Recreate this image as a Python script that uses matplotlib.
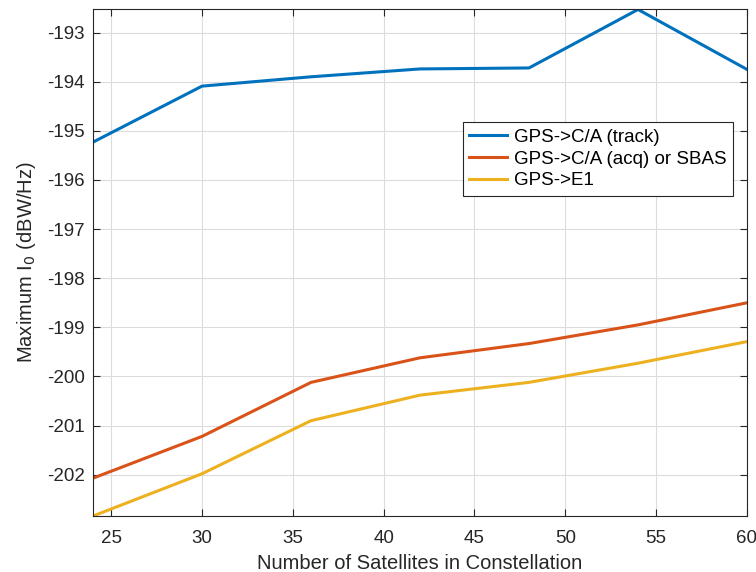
import numpy as np
import matplotlib
matplotlib.use("Agg")
import matplotlib.pyplot as plt

plt.rcParams['font.family'] = ['Liberation Sans', 'DejaVu Sans']
plt.rcParams['axes.unicode_minus'] = False

sats = np.array([24, 30, 36, 42, 48, 54, 60])
ca_track = np.array([-195.23, -194.09, -193.90, -193.74, -193.72, -192.53, -193.75])
ca_acq = np.array([-202.07, -201.22, -200.12, -199.62, -199.33, -198.95, -198.50])
e1 = np.array([-202.84, -201.98, -200.90, -200.38, -200.12, -199.73, -199.29])

labels = ['GPS->C/A (track)', 'GPS->C/A (acq) or SBAS', 'GPS->E1']
colors = ['#0072BD', '#D95319', '#EDB120']

fig = plt.figure(figsize=(7.56, 5.72), dpi=100)
ax = fig.add_axes([93/756, 1 - 516/572, (747 - 93)/756, (516 - 9)/572])

for y, lab, c in zip([ca_track, ca_acq, e1], labels, colors):
    ax.plot(sats, y, color=c, lw=2.2, label=lab)

ax.set_xlim(24, 60)
ax.set_ylim(-202.84, -192.52)
ax.set_xticks(np.arange(25, 61, 5))
ax.set_yticks(np.arange(-202, -192, 1))
ax.grid(True, color='#dcdcdc', lw=0.8)
ax.set_axisbelow(True)
ax.tick_params(direction='in', top=True, right=True, labelsize=13.5,
               colors='#262626', length=5, pad=6)
ax.tick_params(axis='x', pad=10)
for s in ax.spines.values():
    s.set_color('#262626')
    s.set_linewidth(0.8)

ax.set_xlabel('Number of Satellites in Constellation', fontsize=14.5, color='#262626', labelpad=5)
ax.set_ylabel('Maximum I$_0$ (dBW/Hz)', fontsize=14.5, color='#262626', labelpad=6)

leg = ax.legend(loc='upper right', bbox_to_anchor=(0.979, 0.777), fontsize=13.5,
                fancybox=False, edgecolor='#262626', framealpha=1,
                handlelength=2.0, handletextpad=0.4, borderpad=0.35,
                labelspacing=0.25, borderaxespad=0)
leg.get_frame().set_linewidth(0.8)

fig.savefig('out.png', dpi=100)
